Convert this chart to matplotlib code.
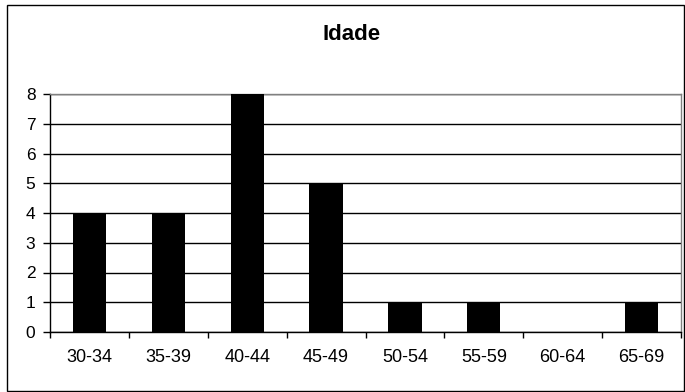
import numpy as np
import matplotlib
matplotlib.use("Agg")
import matplotlib.pyplot as plt
from matplotlib.patches import Rectangle

plt.rcParams['font.family'] = ['Liberation Sans', 'DejaVu Sans']

# age groups and counts
faixas = ["30-34", "35-39", "40-44", "45-49", "50-54", "55-59", "60-64", "65-69"]
contagem = [4, 4, 8, 5, 1, 1, 0, 1]

fig = plt.figure(figsize=(6.85, 3.92), dpi=100)
ax = fig.add_axes([50/685, 60/392, 631/685, 238/392])

x = np.arange(len(faixas))
ax.bar(x, contagem, width=0.42, color='black', zorder=3)

ax.set_xlim(-0.5, len(faixas) - 0.5)
ax.set_ylim(0, 8)
ax.set_yticks(range(0, 9))
ax.yaxis.grid(True, color='black', linewidth=1, zorder=0)

ax.set_xticks(x)
ax.set_xticklabels(faixas)
ax.set_xticks(np.arange(-0.5, len(faixas)), minor=True)
ax.tick_params(axis='x', which='major', length=0, pad=12.5, labelsize=13)
ax.tick_params(axis='x', which='minor', length=4, width=1, direction='out')
ax.tick_params(axis='y', length=5, width=1, direction='out', pad=5.5, labelsize=12.5)

ax.spines['left'].set_color('black')
ax.spines['bottom'].set_color('black')
ax.spines['top'].set_color('#808080')
ax.spines['right'].set_color('#808080')
for s in ax.spines.values():
    s.set_linewidth(1)

fig.text(352/685, 1 - 35/392, "Idade", ha='center', va='center',
         fontsize=16, fontweight='bold')

# outer chart border
fig.patches.append(Rectangle((7/685, 1/392), 677/685, 386/392,
                             transform=fig.transFigure, fill=False,
                             edgecolor='black', linewidth=1))

fig.savefig("out.png", dpi=100)
